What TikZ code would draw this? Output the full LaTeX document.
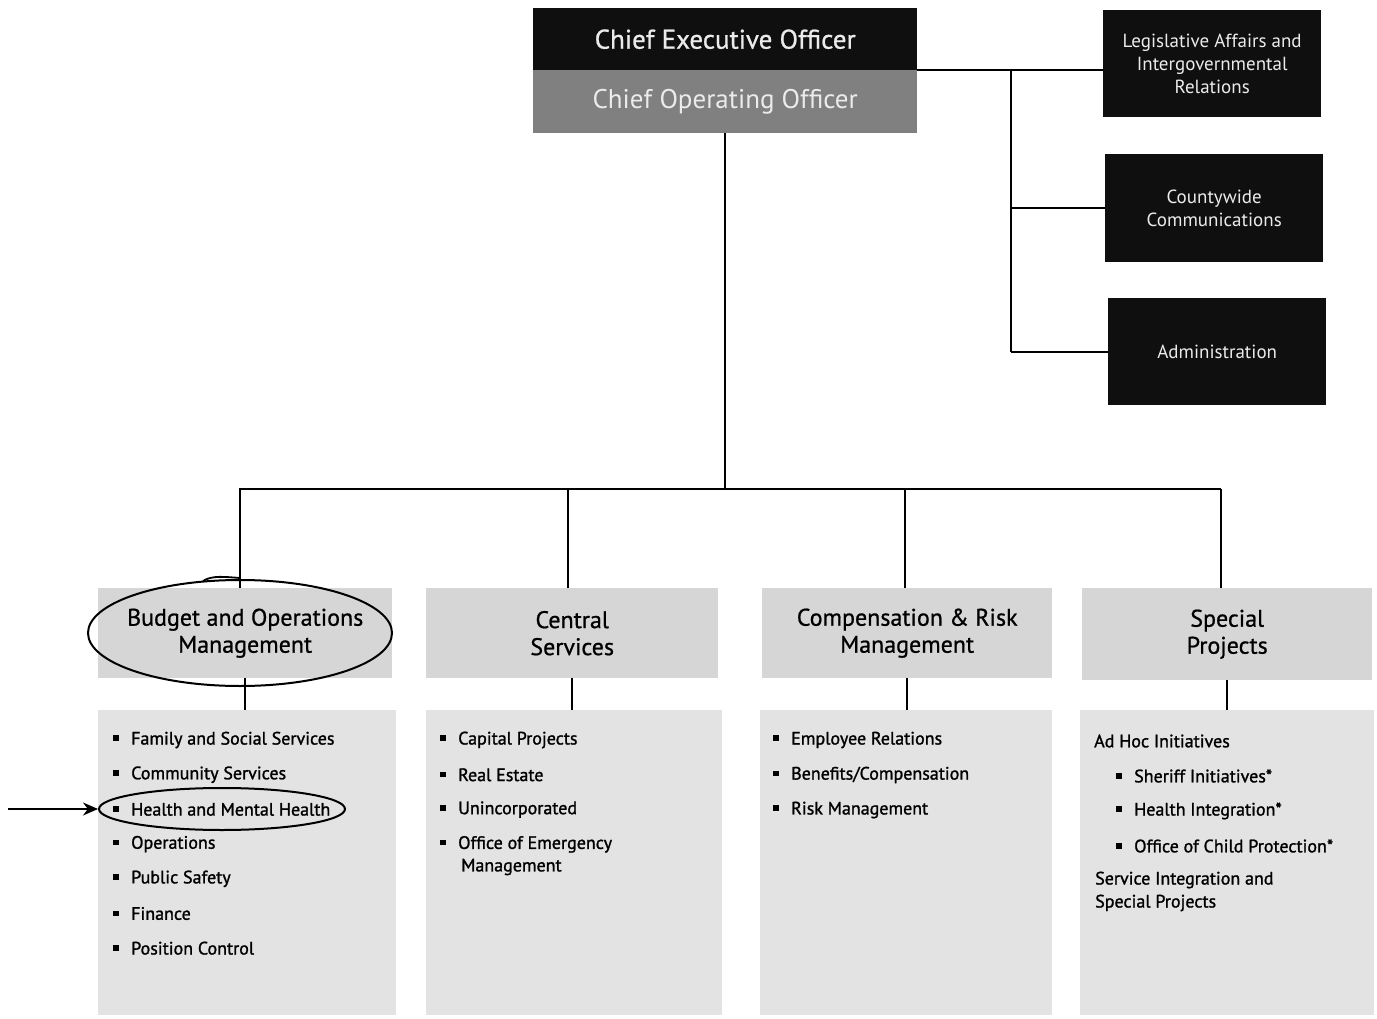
\documentclass[tikz,border=0pt]{standalone}
\usepackage{fontspec}
\setmainfont{PT Sans}
\newfontfamily\medfont[FakeBold=1.3]{PT Sans}
\newfontfamily\hdrfont[FakeBold=0.8]{PT Sans}
\usetikzlibrary{arrows.meta,shapes.geometric}
\definecolor{hdrgray}{gray}{0.84}
\definecolor{listgray}{gray}{0.89}
\definecolor{coogray}{gray}{0.50}
\definecolor{boxblack}{gray}{0.06}
\newcommand{\bul}{\rule[0.2em]{5.5pt}{5.5pt}\hspace{12.5pt}}
\begin{document}
\begin{tikzpicture}[x=1pt,y=-1pt,
  blk/.style={fill=boxblack, anchor=north west, inner sep=0pt, align=center, text=white!92!black},
  hdr/.style={fill=hdrgray, anchor=north west, inner sep=0pt, align=center, font=\hdrfont\fontsize{24}{27}\selectfont},
  lst/.style={fill=listgray, anchor=north west, inner sep=0pt},
  item/.style={anchor=west, inner sep=0pt, font=\medfont\fontsize{18}{22}\selectfont},
  conn/.style={line width=2.2pt, black},
  ring/.style={ellipse, draw, line width=2pt, inner sep=0pt}]
\useasboundingbox (0,0) rectangle (1377,1019);
\fill[white] (0,0) rectangle (1377,1019);
% top boxes
\node[blk, minimum width=384, minimum height=62, font=\hdrfont\fontsize{27}{30}\selectfont] (ceo) at (533,8) {Chief Executive Officer};
\node[blk, fill=coogray, minimum width=384, minimum height=63, font=\fontsize{27}{30}\selectfont] (coo) at (533,70) {Chief Operating Officer};
\node[blk, minimum width=218, minimum height=107, font=\fontsize{19}{23}\selectfont] (leg) at (1103,10) {Legislative Affairs and\\Intergovernmental\\Relations};
\node[blk, minimum width=218, minimum height=108, font=\fontsize{19}{23}\selectfont] (comm) at (1105,154) {Countywide\\Communications};
\node[blk, minimum width=218, minimum height=107, font=\fontsize{19}{23}\selectfont] (admin) at (1108,298) {Administration};
% headers
\node[hdr, minimum width=294, minimum height=90] (h1) at (98,588) {Budget and Operations\\Management};
\node[hdr, minimum width=292, minimum height=90] (h2) at (426,588) {Central\\Services};
\node[hdr, minimum width=290, minimum height=90] (h3) at (762,588) {Compensation \& Risk\\Management};
\node[hdr, minimum width=290, minimum height=92] (h4) at (1082,588) {Special\\Projects};
% list panels
\node[lst, minimum width=298, minimum height=305] (l1) at (98,710) {};
\node[lst, minimum width=296, minimum height=305] (l2) at (426,710) {};
\node[lst, minimum width=292, minimum height=305] (l3) at (760,710) {};
\node[lst, minimum width=294, minimum height=305] (l4) at (1080,710) {};
% connectors
\coordinate (bus) at (728,489);
\coordinate (rbus) at (1011,71);
\draw[conn] (coo.south) -- (coo.south |- bus);
\draw[conn] ([xshift=-6pt]h1.north |- bus) -- ([xshift=-6pt]h4.north |- bus);
\draw[conn] ([xshift=-5pt]h1.north) -- ([xshift=-5pt]h1.north |- bus);
\draw[conn] ([xshift=-4pt]h2.north) -- ([xshift=-4pt]h2.north |- bus);
\draw[conn] ([xshift=-2pt]h3.north) -- ([xshift=-2pt]h3.north |- bus);
\draw[conn] ([xshift=-6pt]h4.north) -- ([xshift=-6pt]h4.north |- bus);
\draw[conn] (ceo.south east) -- (leg.west |- ceo.south east);
\draw[conn] (rbus) -- (rbus |- admin.west);
\draw[conn] (rbus |- comm.west) -- (comm.west);
\draw[conn] (rbus |- admin.west) -- (admin.west);
\draw[conn] (h1.south) -- (h1.south |- l1.north);
\draw[conn] (h2.south) -- (h2.south |- l2.north);
\draw[conn] (h3.south) -- (h3.south |- l3.north);
\draw[conn] (h4.south) -- (h4.south |- l4.north);
% list items
\foreach \t [count=\i] in {Family and Social Services, Community Services, Health and Mental Health, Operations, Public Safety, Finance, Position Control}
  \node[item] (a\i) at (113,{740+34.7*(\i-1)}) {\bul\t};
\foreach \t [count=\i] in {Capital Projects, Real Estate, Unincorporated, Office of Emergency}
  \node[item] (b\i) at (440,{740+34.8*(\i-1)}) {\bul\t};
\node[item] (b5) at (461,867) {Management};
\foreach \t [count=\i] in {Employee Relations, Benefits/Compensation, Risk Management}
  \node[item] (c\i) at (773,{740+35*(\i-1)}) {\bul\t};
\node[item] (d0) at (1094,741) {Ad Hoc Initiatives};
\foreach \t [count=\i] in {Sheriff Initiatives*, Health Integration*, Office of Child Protection*}
  \node[item] (d\i) at (1116,{776+35*(\i-1)}) {\bul\t};
\node[item] (d4) at (1095,880) {Service Integration and};
\node[item] (d5) at (1095,903) {Special Projects};
% hand annotations
\node[ring, minimum width=304, minimum height=106] (ring1) at (240,633) {};
\draw[line width=1.8pt] (203,581) .. controls (212,575) and (226,577) .. (240,578);
\node[ring, minimum width=246, minimum height=42] (ring2) at (222,809) {};
\coordinate (arrtail) at (8,809);
\draw[line width=2pt, -{Stealth[length=15pt,width=13pt]}] (arrtail) -- (ring2.west);
\end{tikzpicture}
\end{document}
